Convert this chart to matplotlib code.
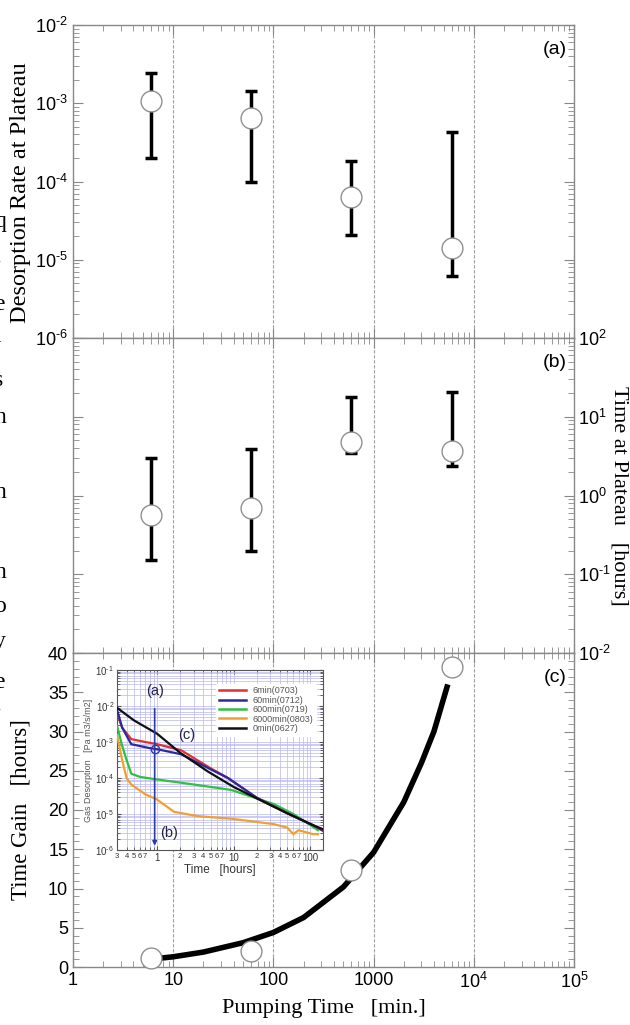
import numpy as np
import matplotlib
matplotlib.use("Agg")
import matplotlib.pyplot as plt
from matplotlib.ticker import LogLocator, FixedLocator, NullFormatter, FuncFormatter, MultipleLocator

plt.rcParams['font.family'] = ['Liberation Sans', 'DejaVu Sans']
plt.rcParams['mathtext.fontset'] = 'custom'
plt.rcParams['mathtext.rm'] = 'Liberation Sans'
plt.rcParams['mathtext.it'] = 'Liberation Sans'

# ---------------- data ----------------
pump_time = [6, 60, 600, 6000]                      # min
rate = [1.08e-3, 6.55e-4, 6.3e-5, 1.43e-5]          # Pa m3/s/m2
rate_hi = [2.46e-3, 1.45e-3, 1.83e-4, 4.3e-4]
rate_lo = [2.0e-4, 1.0e-4, 2.1e-5, 6.2e-6]

plateau_time = [0.56, 0.69, 4.8, 3.7]               # hours
plateau_hi = [2.96, 3.9, 17.8, 20.5]
plateau_lo = [0.15, 0.20, 3.5, 2.4]

gain = [1.2, 2.0, 12.3, 38.2]                       # hours
fit_x = [6, 10, 20, 50, 100, 200, 500, 1000, 2000, 3000, 4000, 5500]
fit_y = [1.0, 1.3, 1.9, 3.1, 4.4, 6.3, 10.2, 14.6, 21.0, 26.0, 30.0, 36.0]

# inset curves: time [hours], log10(desorption)
t_red = [0.3, 0.35, 0.46, 0.7, 1, 2.06, 5, 8.4, 20, 50, 108, 145]
y_red = [-2.2, -2.6, -2.92, -3.0, -3.06, -3.23, -3.73, -4.0, -4.55, -4.98, -5.31, -5.47]
t_blue = [0.3, 0.35, 0.46, 0.8, 1, 2.06, 5, 8.4, 20, 50, 108, 145]
y_blue = [-2.1, -2.6, -3.06, -3.17, -3.2, -3.34, -3.76, -4.0, -4.55, -4.98, -5.31, -5.45]
t_green = [0.3, 0.35, 0.4, 0.46, 0.6, 1, 3, 9.2, 33, 60, 100, 125]
y_green = [-2.55, -3.1, -3.5, -3.88, -3.97, -4.04, -4.18, -4.33, -4.72, -5.0, -5.31, -5.45]
t_orange = [0.3, 0.35, 0.4, 0.46, 0.7, 1, 1.67, 3.4, 9.2, 33, 50, 60, 70, 108, 125]
y_orange = [-2.8, -3.5, -4.0, -4.18, -4.45, -4.6, -4.94, -5.06, -5.13, -5.28, -5.38, -5.56, -5.45, -5.56, -5.56]
t_black = [0.3, 0.5, 1, 2, 4.6, 10, 24.5, 50, 108, 145]
y_black = [-2.05, -2.4, -2.77, -3.3, -3.82, -4.25, -4.66, -4.98, -5.31, -5.42]

legend_labels = ['6min(0703)', '60min(0712)', '600min(0719)', '6000min(0803)', '0min(0627)']

# ---------------- figure ----------------
W, H = 630, 1025
fig = plt.figure(figsize=(W / 100, H / 100), dpi=100)

def fr(x0, y0, x1, y1):
    return [x0 / W, 1 - y1 / H, (x1 - x0) / W, (y1 - y0) / H]

def pow10(v, p):
    e = int(round(np.log10(v)))
    if e < 0:
        return r'$10^{\text{-}%d}$' % (-e)
    return r'$10^{%d}$' % e

spine_c = '#888888'
axA = fig.add_axes(fr(73, 25, 574, 338))
axB = fig.add_axes(fr(73, 338, 574, 653))
axC = fig.add_axes(fr(73, 653, 574, 967))

xmaj = [1, 10, 100, 1000, 1e4, 1e5]
for ax in (axA, axB, axC):
    ax.set_xscale('log')
    ax.set_xlim(1, 1e5)
    for s in ax.spines.values():
        s.set_color(spine_c)
        s.set_linewidth(1.0)
    ax.xaxis.set_major_locator(FixedLocator(xmaj))
    ax.xaxis.set_minor_locator(LogLocator(base=10, subs=np.arange(2, 10)))
    ax.xaxis.set_minor_formatter(NullFormatter())
    ax.tick_params(which='both', direction='in', top=True, bottom=True, colors=spine_c,
                   labelcolor='black', labelsize=13)
    ax.tick_params(which='major', length=7)
    ax.tick_params(which='minor', length=4)
    for xv in [10, 100, 1000, 1e4]:
        ax.axvline(xv, color='#a0a0a0', lw=0.8, ls=(0, (3, 1.5)), zorder=0)

axA.tick_params(labelbottom=False)
axB.tick_params(labelbottom=False)

serif = 'Liberation Serif'

# panel a
axA.set_yscale('log')
axA.set_ylim(1e-6, 1e-2)
axA.yaxis.set_major_locator(FixedLocator([1e-6, 1e-5, 1e-4, 1e-3, 1e-2]))
axA.yaxis.set_major_formatter(FuncFormatter(pow10))
axA.yaxis.set_minor_locator(LogLocator(base=10, subs=np.arange(2, 10)))
axA.yaxis.set_minor_formatter(NullFormatter())
axA.tick_params(axis='y', which='both', right=True)
r = np.array(rate)
axA.errorbar(pump_time, rate, yerr=[r - np.array(rate_lo), np.array(rate_hi) - r],
             fmt='none', ecolor='black', elinewidth=2.5, capsize=4, capthick=2.5, zorder=2)
axA.plot(pump_time, rate, 'o', ms=15, mfc='white', mec='#909090', mew=1.0, zorder=3)
axA.text(0.985, 0.95, '(a)', transform=axA.transAxes, ha='right', va='top', fontsize=14)
axA.set_ylabel('Desorption Rate at Plateau', family=serif, fontsize=17.5)
axA.yaxis.set_label_coords(-(73 - 31) / 501, 0.466)

# panel b
axB.set_yscale('log')
axB.set_ylim(1e-2, 1e2)
axB.yaxis.set_major_locator(FixedLocator([1e-2, 1e-1, 1, 10, 100]))
axB.yaxis.set_major_formatter(FuncFormatter(pow10))
axB.yaxis.set_minor_locator(LogLocator(base=10, subs=np.arange(2, 10)))
axB.yaxis.set_minor_formatter(NullFormatter())
axB.tick_params(axis='y', which='both', left=True, right=True, labelleft=False, labelright=True)
axB.tick_params(axis='y', which='major', pad=3)
p = np.array(plateau_time)
axB.errorbar(pump_time, plateau_time, yerr=[p - np.array(plateau_lo), np.array(plateau_hi) - p],
             fmt='none', ecolor='black', elinewidth=2.5, capsize=4, capthick=2.5, zorder=2)
axB.plot(pump_time, plateau_time, 'o', ms=15, mfc='white', mec='#909090', mew=1.0, zorder=3)
axB.text(0.985, 0.95, '(b)', transform=axB.transAxes, ha='right', va='top', fontsize=14)
axB.yaxis.set_label_position('right')
axB.set_ylabel('Time at Plateau   [hours]', family=serif, fontsize=16, rotation=-90,
               va='center')
axB.yaxis.set_label_coords((619 - 73) / 501, 0.5)

# panel c
axC.set_ylim(0, 40)
axC.yaxis.set_major_locator(MultipleLocator(5))
axC.yaxis.set_minor_locator(MultipleLocator(1))
axC.tick_params(axis='y', which='both', right=True)
axC.set_xticklabels(['1', '10', '100', '1000', r'$10^4$', r'$10^5$'])
axC.plot(fit_x, fit_y, color='black', lw=4, zorder=2, solid_capstyle='butt')
axC.plot(pump_time, gain, 'o', ms=15, mfc='white', mec='#909090', mew=1.0, zorder=3, clip_on=False)
axC.text(0.985, 0.95, '(c)', transform=axC.transAxes, ha='right', va='top', fontsize=14)
axC.set_ylabel('Time Gain   [hours]', family=serif, fontsize=16.5)
axC.yaxis.set_label_coords(-(73 - 32) / 501, 0.5)
axC.set_xlabel('Pumping Time   [min.]', family=serif, fontsize=16, labelpad=5)

# inset
axI = fig.add_axes(fr(117, 670, 323, 850))
axI.set_xscale('log')
axI.set_yscale('log')
axI.set_xlim(0.3, 146)
axI.set_ylim(1e-6, 1e-1)
cols = ['#e03030', '#2a2aa0', '#30c040', '#f0a030', '#101010']
series = [(t_red, y_red), (t_blue, y_blue), (t_green, y_green), (t_orange, y_orange), (t_black, y_black)]
order = [3, 2, 0, 1, 4]
handles = [None] * 5
for i in order:
    t, y = series[i]
    h, = axI.plot(t, 10 ** np.array(y), color=cols[i], lw=1.6, zorder=3)
    handles[i] = h
axI.grid(True, which='both', color='#b8b8f0', lw=0.5)
axI.xaxis.set_major_locator(FixedLocator([1, 10, 100]))
axI.xaxis.set_major_formatter(FuncFormatter(lambda v, p: '%g' % v))
axI.xaxis.set_minor_locator(LogLocator(base=10, subs=np.arange(2, 10)))
def minfmt(v, p):
    d = int(round(v / 10 ** np.floor(np.log10(v) + 1e-9)))
    return str(d) if 2 <= d <= 7 else ''
axI.xaxis.set_minor_formatter(FuncFormatter(minfmt))
axI.yaxis.set_major_locator(FixedLocator([1e-6, 1e-5, 1e-4, 1e-3, 1e-2, 1e-1]))
axI.yaxis.set_major_formatter(FuncFormatter(pow10))
axI.yaxis.set_minor_locator(LogLocator(base=10, subs=np.arange(2, 10)))
axI.yaxis.set_minor_formatter(NullFormatter())
axI.tick_params(which='both', direction='in', top=True, right=True, colors='#555555',
                labelcolor='#333333', labelsize=7, pad=2)
axI.tick_params(which='minor', labelsize=5.5, length=2)
axI.tick_params(which='major', length=3)
for s in axI.spines.values():
    s.set_color('#555555')
    s.set_linewidth(0.8)
axI.set_xlabel('Time   [hours]', fontsize=8.5, color='#333333', labelpad=1)
axI.set_ylabel('Gas Desorption   [Pa m3/s/m2]', fontsize=6.5, color='#555555', labelpad=2)
leg = axI.legend(handles, legend_labels, loc='upper right', fontsize=6.5, frameon=True,
                 framealpha=1, edgecolor='white', handlelength=3, labelspacing=0.05,
                 borderpad=0.3, bbox_to_anchor=(0.99, 0.95))
for txt in leg.get_texts():
    txt.set_color('#555555')
for lh in leg.get_lines():
    lh.set_linewidth(1.8)
axI.annotate('', xy=(0.93, 1.1e-6), xytext=(0.93, 1.0e-2),
             arrowprops=dict(arrowstyle='-|>', color='#2a3aa8', lw=1.2, mutation_scale=6), zorder=4)
axI.plot([0.93], [6.3e-4], 'o', ms=6, mfc='none', mec='#2a3aa8', mew=1.0, zorder=5)
axI.text(0.93, 2.6e-2, '(a)', ha='center', va='center', fontsize=10.5, color='#222244')
axI.text(1.44, 2.9e-6, '(b)', ha='center', va='center', fontsize=10.5, color='#222244')
axI.text(2.4, 1.6e-3, '(c)', ha='center', va='center', fontsize=10.5, color='#222244')

# clipped text fragments along the left edge (partly outside the figure, as in the source)
frag_chars = ["'", 'q', 't', 'e', 'l', 's', 'n', ':', 'n', 'n', 'o', 'y', 'e', 't']
frag_y = [190, 222, 257, 304, 336, 380, 418, 447, 493, 572, 607, 642, 683, 705]
for ch, yy in zip(frag_chars, frag_y):
    fig.text(-6 / W, 1 - yy / H, ch, family=serif, fontsize=17,
             ha='left', va='center', color='black')

fig.savefig('out.png', dpi=100)
